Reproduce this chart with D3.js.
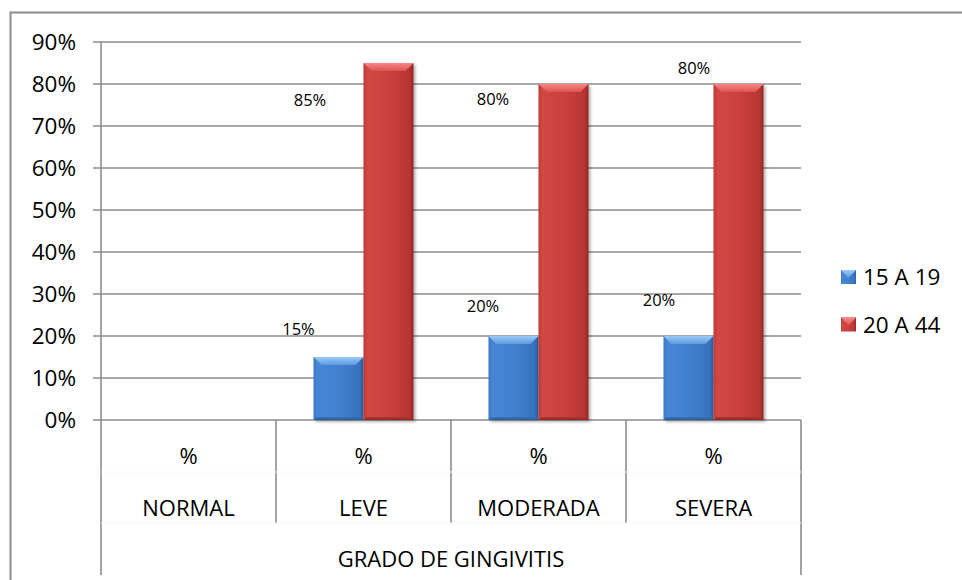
<!DOCTYPE html>
<html>
<head>
<meta charset="utf-8">
<script src="https://cdn.jsdelivr.net/npm/d3@7/dist/d3.min.js"></script>
<style>
  html, body { margin: 0; padding: 0; background: #fff; }
  svg { display: block; font-family: "Open Sans", "Noto Sans", sans-serif; }
</style>
</head>
<body>
<svg id="chart" width="962" height="580"></svg>
<script>
// ---- data ----
const categories = ["NORMAL", "LEVE", "MODERADA", "SEVERA"];
const rowLabels = ["%", "%", "%", "%"];
const groupLabel = "GRADO DE GINGIVITIS";
const seriesNames = ["15 A 19", "20 A 44"];
const values1519 = [null, 0.15, 0.20, 0.20];
const values2044 = [null, 0.85, 0.80, 0.80];
const yTicks = [0, 0.1, 0.2, 0.3, 0.4, 0.5, 0.6, 0.7, 0.8, 0.9];

// ---- layout (label nudges as placed in the original, px) ----
const labelNudge1519 = [null, [-40, -28], [-30.5, -30], [-29.5, -36]];
const labelNudge2044 = [null, [-78.5, 37], [-70.5, 15], [-44.5, -16]];

const svg = d3.select("#chart");
const gridColor = "#8c8c8c";
const plot = { left: 101, right: 801, top: 42, bottom: 420 };

const y = d3.scaleLinear().domain([0, 0.9]).range([plot.bottom, plot.top]);
const x = d3.scaleBand().domain(categories).range([plot.left, plot.right]).padding(0);
const x1 = d3.scaleBand().domain(seriesNames).range([0, x.bandwidth()]).paddingInner(0).paddingOuter(0.75);

// defs: gradients
const defs = svg.append("defs");
function hGrad(id, stops) {
  const g = defs.append("linearGradient").attr("id", id).attr("x1", "0").attr("x2", "1").attr("y1", "0").attr("y2", "0");
  stops.forEach(s => g.append("stop").attr("offset", s[0]).attr("stop-color", s[1]));
}
function vGrad(id, stops) {
  const g = defs.append("linearGradient").attr("id", id).attr("x1", "0").attr("x2", "0").attr("y1", "0").attr("y2", "1");
  stops.forEach(s => g.append("stop").attr("offset", s[0]).attr("stop-color", s[1]));
}
hGrad("bodyBlue", [[0, "#3a78c6"], [0.08, "#4686d5"], [0.5, "#4181cf"], [0.92, "#3772bd"], [1, "#285a9c"]]);
hGrad("bodyRed", [[0, "#bd3836"], [0.08, "#d24643"], [0.5, "#cb413f"], [0.92, "#b83533"], [1, "#8f2624"]]);
vGrad("topBlue", [[0, "#9ccaf8"], [1, "#5e99e0"]]);
vGrad("topRed", [[0, "#f58886"], [1, "#de524f"]]);
vGrad("botBlue", [[0, "#3670b9"], [1, "#2a5c9c"]]);
vGrad("botRed", [[0, "#b23331"], [1, "#8e2725"]]);

const f = defs.append("filter").attr("id", "shadow").attr("x", "-20%").attr("y", "-5%").attr("width", "150%").attr("height", "115%");
f.append("feDropShadow").attr("dx", 2).attr("dy", 2).attr("stdDeviation", 1.6).attr("flood-color", "#000").attr("flood-opacity", 0.3);

// outer frame
svg.append("rect").attr("x", 10.5).attr("y", 12.5).attr("width", 1000).attr("height", 700)
  .attr("fill", "none").attr("stroke", gridColor).attr("stroke-width", 2);

// gridlines + y ticks
svg.append("g").selectAll("line").data(yTicks).join("line")
  .attr("x1", plot.left - 8).attr("x2", plot.right)
  .attr("y1", d => y(d)).attr("y2", d => y(d))
  .attr("stroke", gridColor).attr("stroke-width", 1.6);

svg.append("g").selectAll("text").data(yTicks).join("text")
  .attr("x", 76).attr("y", d => y(d)).attr("dy", "0.36em")
  .attr("text-anchor", "end").attr("font-size", 22.5).attr("fill", "#000")
  .text(d => d3.format(".0%")(d));

// y axis line (continues to bottom of category table)
svg.append("line").attr("x1", plot.left).attr("x2", plot.left).attr("y1", plot.top).attr("y2", 575)
  .attr("stroke", gridColor).attr("stroke-width", 1.6);
// category dividers
const bounds = categories.map(c => x(c)).concat([plot.right]);
svg.append("g").selectAll("line").data(bounds.slice(1)).join("line")
  .attr("x1", d => d).attr("x2", d => d)
  .attr("y1", plot.bottom).attr("y2", (d, i) => i === bounds.length - 2 ? 575 : 523)
  .attr("stroke", gridColor).attr("stroke-width", 1.6);

// faint row separators
svg.append("g").selectAll("line").data([472, 523]).join("line")
  .attr("x1", plot.left).attr("x2", plot.right).attr("y1", d => d).attr("y2", d => d)
  .attr("stroke", "#f8f8f8").attr("stroke-width", 1);

// category labels
svg.append("g").selectAll("text").data(categories).join("text")
  .attr("x", d => x(d) + x.bandwidth() / 2).attr("y", 464)
  .attr("text-anchor", "middle").attr("font-size", 22).text((d, i) => rowLabels[i]);
svg.append("g").selectAll("text").data(categories).join("text")
  .attr("x", d => x(d) + x.bandwidth() / 2).attr("y", 516)
  .attr("text-anchor", "middle").attr("font-size", 22).text(d => d);
svg.append("text").attr("x", (plot.left + plot.right) / 2).attr("y", 567)
  .attr("text-anchor", "middle").attr("font-size", 22).text(groupLabel);

// bars
const seriesData = [
  { name: seriesNames[0], values: values1519, nudges: labelNudge1519, body: "bodyBlue", top: "topBlue", bot: "botBlue" },
  { name: seriesNames[1], values: values2044, nudges: labelNudge2044, body: "bodyRed", top: "topRed", bot: "botRed" }
];
const bev = 8;
const barsG = svg.append("g");
seriesData.forEach(s => {
  s.values.forEach((v, i) => {
    if (v == null) return;
    const x0 = x(categories[i]) + x1(s.name);
    const w = x1.bandwidth();
    const y0 = y(v), y1 = y(0);
    const g = barsG.append("g").attr("filter", "url(#shadow)");
    g.append("rect").attr("x", x0).attr("y", y0).attr("width", w).attr("height", y1 - y0).attr("fill", `url(#${s.body})`);
    g.append("path").attr("d", `M${x0},${y0}L${x0 + w},${y0}L${x0 + w - bev},${y0 + bev}L${x0 + bev},${y0 + bev}Z`)
      .attr("fill", `url(#${s.top})`);
    g.append("path").attr("d", `M${x0},${y1}L${x0 + w},${y1}L${x0 + w - 3},${y1 - 3}L${x0 + 3},${y1 - 3}Z`)
      .attr("fill", `url(#${s.bot})`);
  });
});

// data labels
const labelsG = svg.append("g");
seriesData.forEach(s => {
  s.values.forEach((v, i) => {
    if (v == null) return;
    const cx = x(categories[i]) + x1(s.name) + x1.bandwidth() / 2;
    const nd = s.nudges[i];
    labelsG.append("text").attr("x", cx + nd[0]).attr("y", y(v) + nd[1]).attr("dy", "0.36em")
      .attr("text-anchor", "middle").attr("font-size", 16.5).text(d3.format(".0%")(v));
  });
});

// legend
const legend = svg.append("g");
const legendY = [277, 324.5];
seriesData.forEach((s, i) => {
  const lx = 841, ly = legendY[i] - 7;
  legend.append("rect").attr("x", lx).attr("y", ly).attr("width", 15).attr("height", 14).attr("fill", `url(#${s.body})`);
  legend.append("path").attr("d", `M${lx},${ly}L${lx + 15},${ly}L${lx + 7.5},${ly + 8}Z`).attr("fill", `url(#${s.top})`);
  legend.append("text").attr("x", 863).attr("y", legendY[i]).attr("dy", "0.36em")
    .attr("font-size", 22.5).text(s.name);
});
</script>
</body>
</html>
